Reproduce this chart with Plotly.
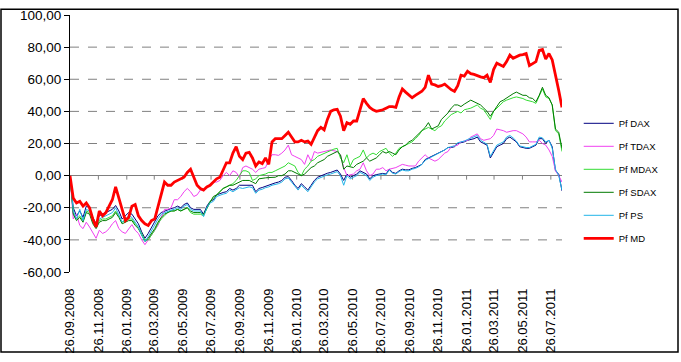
import pandas as pd
import plotly.graph_objects as go

# ---------------- data (weekly observations, values in %) ----------------
START_DATE = "2008-09-26"

pf_dax = [0, -20, -25, -22, -26, -19, -20, -26, -30, -25,
          -24, -23, -22, -21, -18.6, -22, -27, -25, -23, -24,
          -27, -30, -35, -39, -36, -32, -29, -25, -23, -22,
          -21, -20.5, -20, -19, -20, -18, -17, -20, -21, -21,
          -21, -24, -19, -16, -15, -12, -11, -10.5, -10, -8,
          -9, -8, -6, -6, -6, -6, -6, -10, -8, -7.4,
          -6.6, -6, -5, -4.5, -4, -3, -1, -0.6, -3, -6,
          -8, -5, -7, -9, -6, -3, -1, 0, 1, 1.5,
          2, 3, 3.5, 1, -3, 1, -1, 0, 1, 3,
          2, 1, -2, 0, 0.6, 1, 1.4, 1, 4, 2,
          1.4, 3, 4, 3.6, 3.6, 4.5, 5, 6, 7, 10,
          11, 12, 13, 14, 15, 16, 17.5, 17.5, 18, 20,
          20.5, 21, 22, 22.5, 23, 24, 21, 20, 19, 11,
          15, 18, 19, 20, 23, 24, 22.5, 21, 18, 17.5,
          17, 17, 18, 19, 23, 23, 20, 22, 18, 3,
          1, -9.5]

pf_tdax = [0, -27, -24, -31, -33, -29, -32, -36, -39, -34,
           -36, -35, -33, -30, -28, -33, -35, -36, -33, -30.5,
           -34, -36, -40, -43, -40, -37, -34, -31, -26, -21,
           -21, -20, -15, -15, -13, -10, -8, -10, -13, -12,
           -9, -9, -8, -5, -4, -4, -3, 0, 2, 0,
           3, 2, -1, 5, 6, 5, 4, 2, 4, 4.5,
           5, 10, 13, 13, 12.6, 14, 16, 19, 13, 12,
           11, 10, 7, 13, 9, 15, 14, 14.5, 15, 15.5,
           16, 15.5, 15, 13, 5, 0, 0.5, 1, 3, 4,
           8, 3, 0, 1, 4, 4, 5, 3, 4, 4.5,
           5, 6, 7, 6.5, 6, 6, 6, 9, 11, 13,
           11, 10, 9, 10, 12, 14, 15, 18, 18.5, 19,
           21, 21.5, 22, 24, 25, 26, 23, 22, 22.5, 23,
           25, 29, 28.5, 28, 27, 27.5, 28, 28, 27, 26,
           24, 21, 21, 21, 22, 20, 19, 16, 12, 3,
           0, -4]

pf_mdax = [0, -23, -27, -25, -28, -22, -23, -29, -32, -28,
           -27, -27, -26, -25, -22, -25, -29, -28, -27, -27,
           -30, -32, -36, -40, -40, -37, -34, -30, -27, -25,
           -23, -22, -22, -21, -22, -21, -20, -23, -24, -24,
           -24, -25, -21, -16, -14, -12, -10, -8, -7, -6,
           -5, -3, 0, 3, 3, 2, -3, -2, 0, 0.5,
           1, 2, 2, 3, 4, 5, 6, 8, 7, 6,
           2, 0, 4, 6, 9, 10, 12, 13, 14, 15,
           16, 16.5, 17, 11, 8, 13, 6, 10, 11, 12,
           16, 11, 13, 14, 13, 15, 16, 17, 14, 12,
           14, 17, 18, 19, 20, 21, 23, 25, 28, 29,
           30, 29, 28, 30, 31, 34, 36, 38, 39, 40,
           39, 41, 41.5, 42, 43, 44, 42, 41, 38, 35,
           40, 42, 44, 46, 47, 48, 48.5, 49, 48.5, 48,
           47, 46.5, 46, 45, 50, 54, 49, 48, 44, 28,
           26, 15]

pf_sdax = [0, -24, -28, -26, -29, -23, -24, -30, -33, -29,
           -28, -28, -27, -26, -23, -26, -30, -29, -28, -28,
           -31, -33, -37, -41, -39, -36, -33, -29, -26, -24,
           -23, -22, -22, -21, -22, -21, -20, -22, -23, -23,
           -23, -24, -20, -16, -13, -12, -10, -8, -7, -6,
           -6, -5, -4, -3, -3, -3, -4, -5, -2, -1.5,
           -1.4, -1.2, -1, -1, 0, 0, 1, 3, 3, 2,
           1, 0, 1, 3, 5, 6, 8, 9, 10, 12,
           13, 14, 15, 13, 4, 6, 5.5, 5, 7, 8,
           9, 11, 9, 10, 11, 13, 15, 14, 15, 14,
           13, 16, 18, 19, 21, 22, 24, 26, 28, 30,
           33, 29, 30, 31, 35, 37, 39, 42, 44, 44,
           43, 44.5, 45.5, 47, 46, 45, 44, 42, 40, 37,
           40, 43, 46, 47, 48.5, 50, 51, 52, 51, 50,
           50, 48.5, 48, 46, 50, 55, 50, 48.5, 44, 29,
           27, 17]

pf_ps = [0, -22, -27, -21, -28, -21, -22, -28, -31, -27,
         -26, -25, -24, -23, -20, -24, -29, -27, -25, -26,
         -29, -32, -37, -41, -38, -34, -31, -27, -24, -23,
         -22, -21.5, -21, -20, -21, -19, -18, -21, -22, -22,
         -22, -25.5, -20, -17, -16, -13, -12, -11.5, -11, -9,
         -10, -9, -7.5, -8, -7.5, -7, -7.5, -11, -9, -8.5,
         -7.5, -7, -6, -5.5, -5, -4, -2, -1.5, -4, -7,
         -9, -6, -8, -10, -7, -4, -2, -1, 0, 0.5,
         1, 2, 2.5, 0, -6, 0, -2, -1, 0, 2,
         1, 0, -3, -1, 0, 0.5, 1, 0.5, 3.5, 1.5,
         1, 2.5, 3.5, 3, 3, 4, 4.5, 5.5, 7, 9.5,
         10.5, 11.5, 12.5, 13.5, 14.5, 16, 17.5, 18, 18.5, 20.5,
         21, 21.5, 22.5, 23.5, 24, 25, 22, 21, 19.5, 12,
         16, 19, 20, 21, 24, 25, 23.5, 21.5, 18.5, 18,
         17.5, 17.5, 18.5, 19.5, 24, 23.5, 21, 22, 17, 4,
         0, -9]

pf_md = [0, -14, -17, -16, -19, -17, -20, -27, -32, -22,
         -25, -23, -19, -15, -7, -14, -22, -28, -26, -19,
         -18, -25, -28, -30, -31, -28, -27, -19, -12, -4,
         -6, -6, -4, -3, -2, -1, 2, 4, -1, -6,
         -8, -9, -7, -6, -4, -2, -1, 3, 8, 8,
         14, 18, 12, 10, 14, 14.5, 11, 6, 8.5, 7.5,
         11, 7, 21, 23, 23, 23, 25, 27, 24, 21,
         21, 22, 21, 21.5, 19.5, 24, 28, 30, 28.5, 35,
         40, 41, 41.3, 37, 28, 33, 32, 34, 34, 41,
         48, 45, 42.5, 41, 40, 40.5, 41, 42, 43, 43,
         42.5, 49, 54, 52, 50, 48.5, 50, 51, 52.5, 55,
         62.5, 57, 56.5, 55.5, 56, 57, 55, 53.5, 52.5, 56,
         62.5, 62, 65, 63.5, 63, 62, 61.5, 61, 62.5, 58,
         66, 70, 69, 68, 71, 75, 73, 74, 75, 75.3,
         76, 68.5, 70, 71, 78, 78.5, 72.5, 76, 72, 63,
         53, 42.5]

series_names = ["Pf DAX", "Pf TDAX", "Pf MDAX", "Pf SDAX", "Pf PS", "Pf MD"]
series_values = [pf_dax, pf_tdax, pf_mdax, pf_sdax, pf_ps, pf_md]

x_tick_labels = ["26.09.2008", "26.11.2008", "26.01.2009", "26.03.2009", "26.05.2009",
                 "26.07.2009", "26.09.2009", "26.11.2009", "26.01.2010", "26.03.2010",
                 "26.05.2010", "26.07.2010", "26.09.2010", "26.11.2010", "26.01.2011",
                 "26.03.2011", "26.05.2011", "26.07.2011"]
y_tick_values = [-60, -40, -20, 0, 20, 40, 60, 80, 100]
y_tick_labels = ["-60,00", "-40,00", "-20,00", "0,00", "20,00", "40,00", "60,00", "80,00", "100,00"]
grid_values = [-40, -20, 20, 40, 60, 80]

# ---------------- styling ----------------
colors = ["#000080", "#F040F0", "#33DD33", "#007A00", "#22B4E8", "#FF0000"]
widths = [1, 1, 1, 1, 1, 2.8]
FONT = "Liberation Sans, Arial, sans-serif"

dates = pd.date_range(START_DATE, periods=len(pf_md), freq="7D")
tick_dates = pd.to_datetime(x_tick_labels, format="%d.%m.%Y")

fig = go.Figure()
for i, (name, vals) in enumerate(zip(series_names, series_values)):
    fig.add_trace(go.Scatter(
        x=dates, y=vals, name=name, mode="lines",
        line=dict(color=colors[i], width=widths[i]),
        legendgroup=name,
    ))

shapes = []
for g in grid_values:
    shapes.append(dict(type="line", xref="paper", yref="y", x0=0, x1=1, y0=g, y1=g,
                       line=dict(color="#808080", width=1, dash="dash"), layer="below"))
for d in tick_dates:
    shapes.append(dict(type="line", xref="x", yref="y", ysizemode="pixel", yanchor=0,
                       x0=d, x1=d, y0=0, y1=-4,
                       line=dict(color="#808080", width=1), layer="below"))
# outer chart border
shapes.append(dict(type="rect", xref="paper", yref="paper",
                   x0=(1 - 70) / 492, x1=(678 - 70) / 492,
                   y0=(275 - 358) / 267, y1=(275 - 2) / 267,
                   line=dict(color="black", width=1.5), fillcolor="rgba(0,0,0,0)"))

fig.update_layout(
    width=681, height=362,
    margin=dict(l=70, r=119, t=8, b=87),
    paper_bgcolor="white", plot_bgcolor="white",
    font=dict(family=FONT, color="black"),
    showlegend=True,
    legend=dict(x=1.034, y=0.635, xanchor="left", yanchor="top",
                font=dict(size=9.5, family=FONT), tracegroupgap=4,
                bgcolor="rgba(0,0,0,0)", itemwidth=30),
    shapes=shapes,
    xaxis=dict(type="date", range=[dates[0], dates[-1]],
               tickvals=tick_dates, ticktext=x_tick_labels, tickangle=-90,
               tickfont=dict(size=13), ticks="", showgrid=False, showline=False,
               zeroline=False, ticklabelstandoff=13),
    yaxis=dict(range=[-60, 100], tickvals=y_tick_values, ticktext=y_tick_labels,
               tickfont=dict(size=13.5), showgrid=False, showline=True,
               linecolor="black", linewidth=1, ticks="outside", ticklen=5,
               tickcolor="black", zeroline=True, zerolinecolor="#808080",
               zerolinewidth=1),
)

fig.write_html("out.html", config={"displayModeBar": False},
               post_script="document.body.style.margin='0px';")
